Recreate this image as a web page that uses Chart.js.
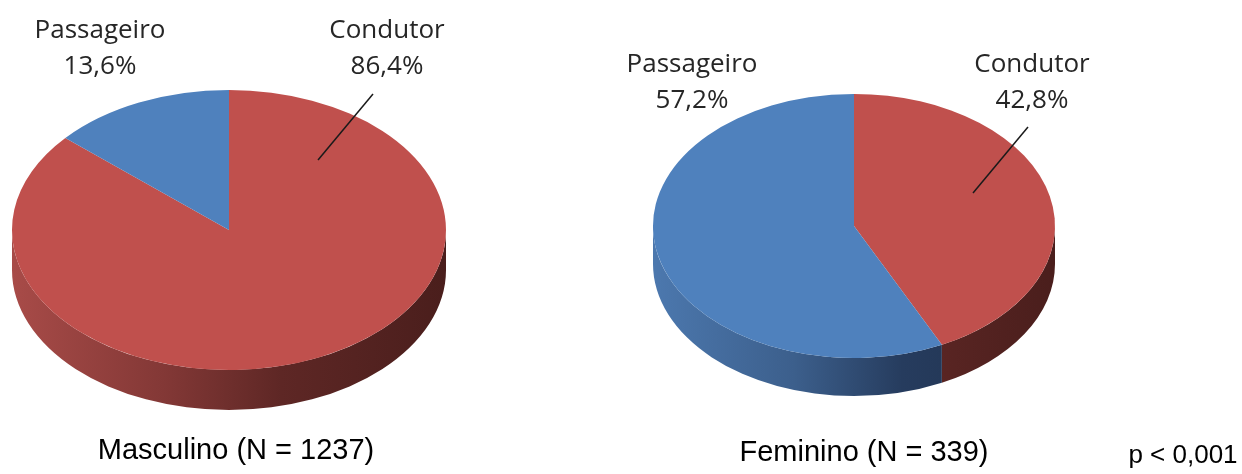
<!DOCTYPE html>
<html>
<head>
<meta charset="utf-8">
<script src="https://cdn.jsdelivr.net/npm/chart.js@4"></script>
<style>
  body { margin: 0; background: #fff; }
  .box { position: absolute; top: 0; width: 621px; height: 474px; }
</style>
</head>
<body>
<div class="box" style="left:0"><canvas id="masc"></canvas></div>
<div class="box" style="left:621px"><canvas id="fem"></canvas></div>
<script>
// data
const categories = ['Condutor', 'Passageiro'];
const masculino = [86.4, 13.6];
const feminino = [42.8, 57.2];
const titles = ['Masculino (N = 1237)', 'Feminino (N = 339)'];
const pValue = 'p < 0,001';

const topColors = ['#C0504D', '#4F81BD'];
const sideStops = [
    ['#a84b48', '#833836', '#5e2725', '#4a1e1c'],
    ['#4c78ae', '#3c5f8c', '#263c5e', '#1f304b']
];

const fmt = v => v.toFixed(1).replace('.', ',') + '%';

// squash the pie into an ellipse and draw the rim under it
const pie3d = {
    id: 'pie3d',
    beforeDatasetsDraw(chart) {
        const o = chart.options.plugins.pie3d;
        const ctx = chart.ctx;
        const arcs = chart.getDatasetMeta(0).data;
        const cx = arcs[0].x, cy = arcs[0].y, r = arcs[0].outerRadius;
        ctx.save();
        ctx.translate(cx, cy);
        ctx.scale(1, o.tilt);
        ctx.translate(-cx, -cy);
        const dy = o.depth / o.tilt;
        arcs.forEach((a, i) => {
            const a0 = Math.max(a.startAngle, 0);
            const a1 = Math.min(a.endAngle, Math.PI);
            if (a1 <= a0) return;
            const g = ctx.createLinearGradient(cx - r, 0, cx + r, 0);
            const st = sideStops[i];
            g.addColorStop(0, st[0]);
            g.addColorStop(0.35, st[1]);
            g.addColorStop(0.62, st[2]);
            g.addColorStop(1, st[3]);
            ctx.beginPath();
            ctx.arc(cx, cy, r, a0, a1);
            ctx.arc(cx, cy + dy, r, a1, a0, true);
            ctx.closePath();
            ctx.fillStyle = g;
            ctx.fill();
        });
    },
    afterDatasetsDraw(chart) {
        chart.ctx.restore();
    },
    afterDraw(chart) {
        const o = chart.options.plugins.pie3d;
        const ctx = chart.ctx;
        const vals = chart.data.datasets[0].data;
        ctx.save();
        ctx.fillStyle = '#262626';
        ctx.textAlign = 'center';
        ctx.font = '26px "Open Sans"';
        o.labels.forEach((l, i) => {
            ctx.fillText(chart.data.labels[i], l.x, l.y);
            ctx.fillText(fmt(vals[i]), l.x, l.y + 36);
        });
        ctx.strokeStyle = '#1a1a1a';
        ctx.lineWidth = 1.5;
        ctx.beginPath();
        ctx.moveTo(o.leader[0], o.leader[1]);
        ctx.lineTo(o.leader[2], o.leader[3]);
        ctx.stroke();
        ctx.fillStyle = '#000';
        ctx.font = '29px "Liberation Sans", Arial';
        ctx.fillText(o.title, o.titlePos[0], o.titlePos[1]);
        if (o.note) {
            ctx.font = '26px "Liberation Sans", Arial';
            ctx.fillText(o.note, o.notePos[0], o.notePos[1]);
        }
        ctx.restore();
    }
};

const makePie = (id, values, pad, p3d) => {
    return new Chart(document.getElementById(id), {
        type: 'pie',
        data: {
            labels: categories,
            datasets: [{
                data: values,
                backgroundColor: topColors,
                borderWidth: 0
            }]
        },
        options: {
            responsive: true,
            maintainAspectRatio: false,
            animation: false,
            events: [],
            layout: { padding: pad },
            plugins: {
                legend: { display: false },
                tooltip: { enabled: false },
                pie3d: p3d
            }
        },
        plugins: [pie3d]
    });
};

makePie('masc', masculino, { left: 12, right: 175, top: 13, bottom: 27 }, {
    tilt: 0.645,
    depth: 40,
    labels: [{ x: 387, y: 38 }, { x: 100, y: 38 }],
    leader: [373, 94, 318, 160],
    title: titles[0],
    titlePos: [236, 459]
});

makePie('fem', feminino, { left: 32, right: 187, top: 25, bottom: 47 }, {
    tilt: 0.657,
    depth: 38,
    labels: [{ x: 411, y: 72 }, { x: 71, y: 72 }],
    leader: [407, 127, 352, 193],
    title: titles[1],
    titlePos: [243, 461],
    note: pValue,
    notePos: [562, 463]
});
</script>
</body>
</html>
